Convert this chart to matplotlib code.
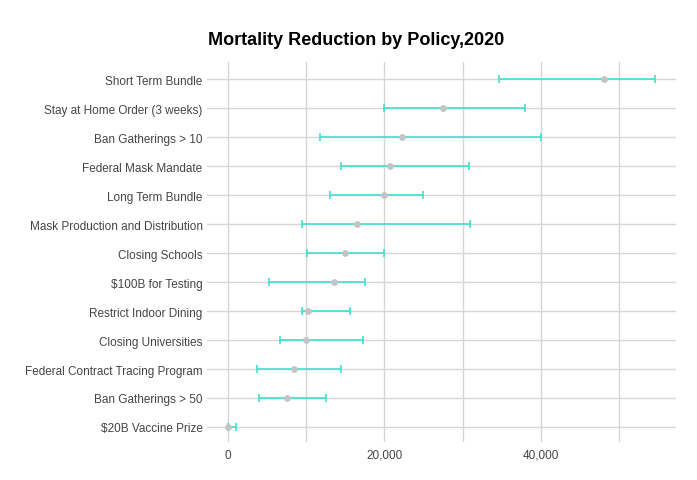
import matplotlib
matplotlib.use("Agg")
import matplotlib.pyplot as plt
from matplotlib.ticker import FuncFormatter, MultipleLocator

policies = [
    "Short Term Bundle",
    "Stay at Home Order (3 weeks)",
    "Ban Gatherings > 10",
    "Federal Mask Mandate",
    "Long Term Bundle",
    "Mask Production and Distribution",
    "Closing Schools",
    "$100B for Testing",
    "Restrict Indoor Dining",
    "Closing Universities",
    "Federal Contract Tracing Program",
    "Ban Gatherings > 50",
    "$20B Vaccine Prize",
]
estimate = [48100, 27500, 22200, 20700, 20000, 16500, 15000, 13500, 10200, 10000, 8500, 7500, 0]
lower = [34600, 20000, 11800, 14500, 13000, 9500, 10100, 5200, 9500, 6700, 3700, 4000, 0]
upper = [54600, 38000, 40000, 30800, 25000, 31000, 20000, 17500, 15600, 17300, 14500, 12500, 1000]

fig = plt.figure(figsize=(6.97, 4.81), dpi=100)
ax = fig.add_axes([0.2966, 0.079, 0.6728, 0.790])

ypos = list(range(len(policies)))
xerr = [[e - l for e, l in zip(estimate, lower)], [u - e for e, u in zip(estimate, upper)]]
ax.errorbar(estimate, ypos, xerr=xerr, fmt="none", ecolor="#40E0D0", elinewidth=1.2,
            capsize=3, capthick=1.2, zorder=3)
ax.scatter(estimate, ypos, s=24, color="#c4c4c4", zorder=4, linewidths=0)

ax.set_xlim(-2720, 57250)
ax.set_ylim(12.52, -0.60)
ax.set_yticks(ypos)
ax.set_yticklabels(policies, family=["Liberation Sans", "DejaVu Sans"], fontsize=8.5, color="#444444")
ax.xaxis.set_major_locator(MultipleLocator(20000))
ax.xaxis.set_minor_locator(MultipleLocator(10000))
ax.xaxis.set_major_formatter(FuncFormatter(lambda v, p: f"{int(v):,}"))
for lab in ax.get_xticklabels():
    lab.set_family(["Liberation Sans", "DejaVu Sans"])
    lab.set_fontsize(8.5)
    lab.set_color("#444444")

ax.grid(True, which="major", axis="both", color="#d6d6d6", linewidth=1.0, zorder=0)
ax.grid(True, which="minor", axis="x", color="#d6d6d6", linewidth=1.0, zorder=0)
ax.set_axisbelow(True)
ax.tick_params(which="both", length=0)
ax.tick_params(axis="y", pad=3)
ax.tick_params(axis="x", pad=5)
for s in ax.spines.values():
    s.set_visible(False)

fig.text(0.511, 0.915, "Mortality Reduction by Policy,2020", ha="center", va="center",
         fontsize=13, fontweight="bold", color="black",
         family=["Liberation Sans Narrow", "Liberation Sans", "DejaVu Sans"])

fig.savefig("out.png", dpi=100)
